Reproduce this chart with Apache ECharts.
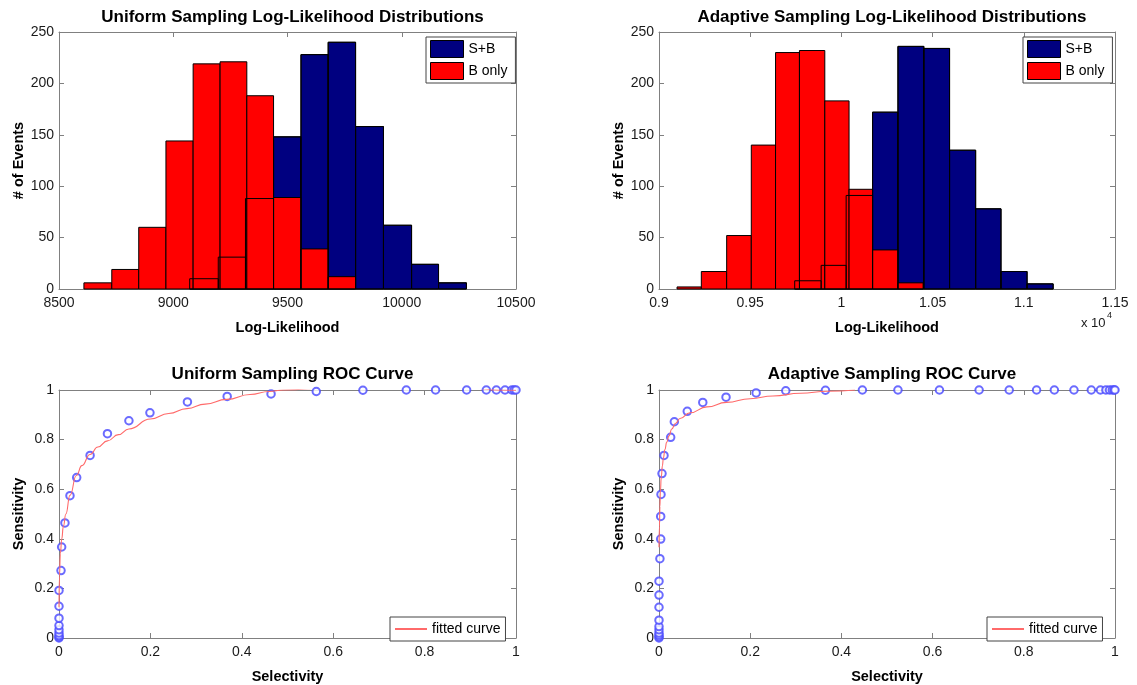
<!DOCTYPE html>
<html><head><meta charset="utf-8">
<script src="https://cdn.jsdelivr.net/npm/echarts@6/dist/echarts.min.js"></script>
<style>html,body{margin:0;padding:0;background:#fff}#c{width:1137px;height:685px}</style>
</head><body><div id="c"></div>
<script>
// ---------- data ----------
var titles = ['Uniform Sampling Log-Likelihood Distributions', 'Adaptive Sampling Log-Likelihood Distributions',
              'Uniform Sampling ROC Curve', 'Adaptive Sampling ROC Curve'];
// Uniform histogram (bin edges + counts)
var uniSBEdges = [9072, 9197, 9316, 9439, 9559, 9678, 9798, 9920, 10043, 10161, 10283];
var uniSBCounts = [10, 31, 88, 148, 228, 240, 158, 62, 24, 6];
var uniBEdges = [8609, 8731, 8849, 8968, 9087, 9205, 9322, 9439, 9559, 9678, 9798];
var uniBCounts = [6, 19, 60, 144, 219, 221, 188, 89, 39, 12];
// Adaptive histogram (x 10^4)
var adaSBEdges = [0.9744, 0.9889, 1.0026, 1.0171, 1.0310, 1.0452, 1.0593, 1.0736, 1.0875, 1.1018, 1.1161];
var adaSBCounts = [8, 23, 91, 172, 236, 234, 135, 78, 17, 5];
var adaBEdges = [0.9099, 0.9232, 0.9371, 0.9506, 0.9639, 0.9770, 0.9909, 1.0042, 1.0171, 1.0310, 1.0448];
var adaBCounts = [2, 17, 52, 140, 230, 232, 183, 97, 38, 6];
// Uniform ROC points
var uniSel = [0, 0, 0, 0, 0, 0, 0, 0, 0, 0.0044, 0.0058, 0.013, 0.024, 0.0387, 0.068, 0.106, 0.153, 0.199, 0.281, 0.368, 0.464, 0.563, 0.665, 0.76, 0.824, 0.892, 0.935, 0.957, 0.976, 0.991, 0.996, 1];
var uniSens = [0, 0.004, 0.01, 0.02, 0.033, 0.05, 0.08, 0.128, 0.192, 0.272, 0.367, 0.464, 0.574, 0.647, 0.736, 0.824, 0.876, 0.908, 0.952, 0.974, 0.984, 0.994, 0.999, 1, 1, 1, 1, 1, 1, 1, 1, 1];
// Uniform fitted curve
var uniFitX = [0, 0.001, 0.003, 0.006, 0.0095, 0.015, 0.024, 0.038, 0.05, 0.068, 0.085, 0.106, 0.13, 0.153, 0.2, 0.24, 0.28, 0.32, 0.367, 0.418, 0.46, 0.49, 0.6, 0.75, 0.9, 0.96, 1];
var uniFitY = [0.124, 0.25, 0.34, 0.40, 0.45, 0.50, 0.575, 0.655, 0.695, 0.74, 0.77, 0.795, 0.82, 0.843, 0.883, 0.905, 0.925, 0.943, 0.962, 0.982, 0.994, 1.0, 1.01, 1.015, 1.008, 1.0, 0.999];
// Adaptive ROC points
var adaSel = [0, 0, 0, 0, 0, 0, 0, 0, 0, 0, 0.002, 0.0037, 0.0037, 0.0044, 0.0066, 0.011, 0.0256, 0.0336, 0.062, 0.096, 0.147, 0.213, 0.278, 0.365, 0.446, 0.524, 0.615, 0.702, 0.768, 0.828, 0.867, 0.91, 0.948, 0.968, 0.98, 0.988, 0.994, 0.998, 1];
var adaSens = [0, 0.005, 0.012, 0.02, 0.033, 0.046, 0.072, 0.124, 0.173, 0.229, 0.32, 0.399, 0.49, 0.579, 0.663, 0.736, 0.809, 0.872, 0.914, 0.95, 0.971, 0.988, 0.997, 0.999, 1, 1, 1, 1, 1, 1, 1, 1, 1, 1, 1, 1, 1, 1, 1];
// Adaptive fitted curve
var adaFitX = [0, 0.001, 0.002, 0.003, 0.005, 0.0075, 0.0095, 0.013, 0.017, 0.022, 0.028, 0.036, 0.046, 0.068, 0.105, 0.148, 0.2, 0.25, 0.31, 0.37, 0.43];
var adaFitY = [0.366, 0.45, 0.53, 0.59, 0.65, 0.695, 0.725, 0.76, 0.79, 0.815, 0.843, 0.865, 0.885, 0.908, 0.932, 0.95, 0.965, 0.976, 0.987, 0.995, 1.0];
var histYTicks = [0, 250, 50];
var uniXRange = [8500, 10500, 500];
var adaXRange = [0.9, 1.15, 0.05];
var rocRange = [0, 1, 0.2];

// ---------- helpers ----------
var FONT = "'Liberation Sans', Arial, sans-serif";
var NAVY = '#000080', RED = '#ff0000', AXC = '#808080';
function bins(edges, counts) { var r = []; for (var i = 0; i < counts.length; i++) r.push([edges[i], edges[i + 1], counts[i]]); return r; }
function pairs(xs, ys) { return xs.map(function (x, i) { return [x, ys[i]]; }); }
function fmt(v) { return String(+(+v).toFixed(4)); }
function rectRender(fill) {
  return function (params, api) {
    var a = api.coord([api.value(0), 0]);
    var b = api.coord([api.value(1), api.value(2)]);
    return { type: 'rect', shape: { x: a[0], y: b[1], width: b[0] - a[0], height: a[1] - b[1] },
      style: { fill: fill, stroke: '#000', lineWidth: 1 } };
  };
}
var grids = [
  { left: 59, top: 32, width: 457, height: 257 },
  { left: 659, top: 32, width: 456, height: 257 },
  { left: 59, top: 390, width: 457, height: 255 },
  { left: 659, top: 390, width: 456, height: 255 }
];
var xr = [uniXRange, adaXRange, rocRange, rocRange];
var yr = [histYTicks, histYTicks, rocRange, rocRange];
var xNames = ['Log-Likelihood', 'Log-Likelihood', 'Selectivity', 'Selectivity'];
var yNames = ['# of Events', '# of Events', 'Sensitivity', 'Sensitivity'];
var xAxes = [], yAxes = [];
grids.forEach(function (g, i) {
  var common = { gridIndex: i, type: 'value', splitLine: { show: false },
    axisLine: { show: true, onZero: false, lineStyle: { color: AXC, width: 1 } },
    axisTick: { show: true, inside: true, length: 5, lineStyle: { color: AXC } } };
  xAxes.push(Object.assign({}, common, { position: 'bottom', min: xr[i][0], max: xr[i][1], interval: xr[i][2],
    name: xNames[i], nameLocation: 'middle', nameGap: 31,
    nameTextStyle: { fontFamily: FONT, fontWeight: 'bold', fontSize: 14.5, color: '#000' },
    axisLabel: { fontFamily: FONT, fontSize: 14, color: '#1a1a1a', margin: 7, formatter: fmt } }));
  xAxes.push(Object.assign({}, common, { position: 'top', min: xr[i][0], max: xr[i][1], interval: xr[i][2], axisLabel: { show: false } }));
  yAxes.push(Object.assign({}, common, { position: 'left', min: yr[i][0], max: yr[i][1], interval: yr[i][2],
    name: yNames[i], nameLocation: 'middle', nameGap: 33,
    nameTextStyle: { fontFamily: FONT, fontWeight: 'bold', fontSize: 14.5, color: '#000' },
    axisLabel: { fontFamily: FONT, fontSize: 14, color: '#1a1a1a', margin: 5, formatter: fmt } }));
  yAxes.push(Object.assign({}, common, { position: 'right', min: yr[i][0], max: yr[i][1], interval: yr[i][2], axisLabel: { show: false } }));
});

var series = [];
function hist(gi, sbE, sbC, bE, bC) {
  var ax = gi * 2;
  series.push({ type: 'custom', name: 'S+B', xAxisIndex: ax, yAxisIndex: ax, itemStyle: { color: NAVY },
    renderItem: rectRender(NAVY), encode: { x: [0, 1], y: 2 }, data: bins(sbE, sbC) });
  series.push({ type: 'custom', name: 'B only', xAxisIndex: ax, yAxisIndex: ax, itemStyle: { color: RED },
    renderItem: rectRender(RED), encode: { x: [0, 1], y: 2 }, data: bins(bE, bC) });
  series.push({ type: 'custom', name: 'sb-edge', xAxisIndex: ax, yAxisIndex: ax, silent: true,
    renderItem: rectRender('none'), encode: { x: [0, 1], y: 2 }, data: bins(sbE, sbC) });
}
hist(0, uniSBEdges, uniSBCounts, uniBEdges, uniBCounts);
hist(1, adaSBEdges, adaSBCounts, adaBEdges, adaBCounts);
function roc(gi, sx, sy, fx, fy) {
  var ax = gi * 2;
  series.push({ type: 'scatter', name: 'data', xAxisIndex: ax, yAxisIndex: ax, symbol: 'emptyCircle', symbolSize: 7.5,
    itemStyle: { color: '#4646ff', borderColor: '#4646ff', borderWidth: 1 }, data: pairs(sx, sy), z: 3 });
  series.push({ type: 'line', name: 'fitted curve', xAxisIndex: ax, yAxisIndex: ax, showSymbol: false, symbol: 'none',
    smooth: 0.5, smoothMonotone: 'x', clip: true, color: '#ff6a6a',
    lineStyle: { color: '#ff6a6a', width: 1.1 }, data: pairs(fx, fy), z: 4 });
}
roc(2, uniSel, uniSens, uniFitX, uniFitY);
roc(3, adaSel, adaSens, adaFitX, adaFitY);

function histLegend(left) {
  return { data: ['S+B', 'B only'], left: left, top: 37, orient: 'vertical', icon: 'rect',
    itemWidth: 33, itemHeight: 17, itemGap: 4, padding: [3, 8, 3, 4], backgroundColor: '#fff',
    borderColor: '#444', borderWidth: 1, selectedMode: false,
    itemStyle: { borderColor: '#000', borderWidth: 1 },
    textStyle: { fontFamily: FONT, fontSize: 14, color: '#000' } };
}
function rocLegend(left) {
  return { data: ['fitted curve'], left: left, top: 617, orient: 'vertical', icon: 'rect',
    itemWidth: 32, itemHeight: 2, padding: [5, 5, 5, 5], backgroundColor: '#fff',
    borderColor: '#444', borderWidth: 1, selectedMode: false,
    itemStyle: { color: '#ff6a6a', borderWidth: 0 },
    textStyle: { fontFamily: FONT, fontSize: 14, color: '#000' } };
}

var option = {
  backgroundColor: '#fff',
  animation: false,
  title: titles.map(function (t, i) {
    var g = grids[i];
    return { text: t, left: g.left + g.width / 2, top: i < 2 ? 4 : 361, textAlign: 'center',
      textStyle: { fontFamily: FONT, fontWeight: 'bold', fontSize: 17, color: '#000' } };
  }),
  grid: grids,
  xAxis: xAxes,
  yAxis: yAxes,
  legend: [histLegend(426), histLegend(1023), rocLegend(390), rocLegend(987)],
  graphic: [
    { type: 'text', left: 1081, top: 317, style: { text: 'x 10', fontFamily: FONT, fontSize: 13, fill: '#1a1a1a' } },
    { type: 'text', left: 1107, top: 311, style: { text: '4', fontFamily: FONT, fontSize: 9, fill: '#1a1a1a' } }
  ],
  series: series
};
var chart = echarts.init(document.getElementById('c'), null, { renderer: 'canvas' });
chart.setOption(option);
</script></body></html>
